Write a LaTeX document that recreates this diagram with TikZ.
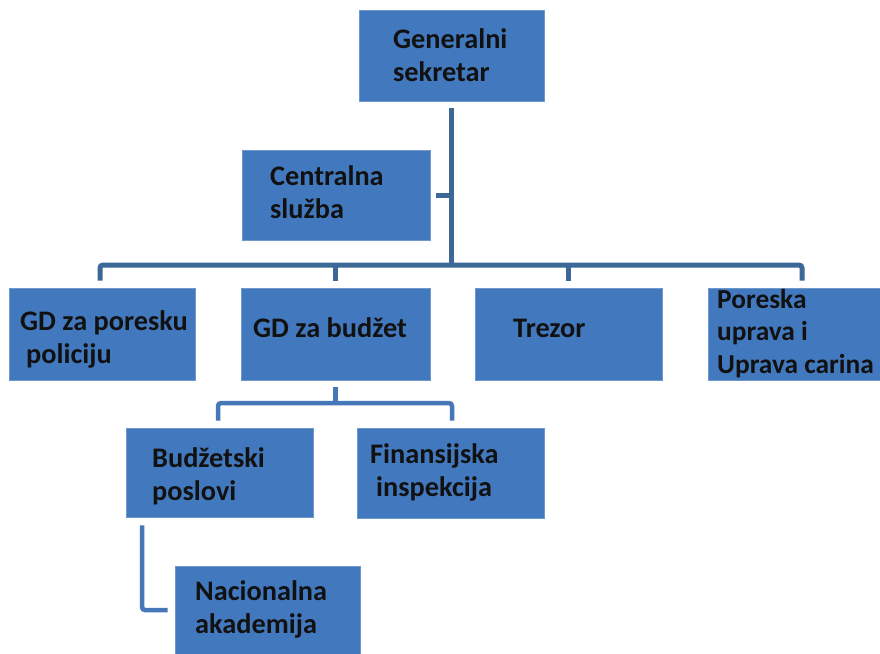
\documentclass[tikz,border=0pt]{standalone}
\usepackage{fontspec}
\setmainfont{Carlito}
\definecolor{boxblue}{HTML}{4279BE}
\definecolor{boxedge}{HTML}{6E98CC}
\definecolor{linedark}{HTML}{3C6898}
\definecolor{linemid}{HTML}{4677B8}
\definecolor{txt}{HTML}{111111}
\begin{document}
\begin{tikzpicture}[x=1pt,y=-1pt,
  orgbox/.style={draw=boxedge, line width=0.8pt, fill=boxblue, inner sep=0pt},
  lbl/.style={anchor=north west, inner sep=0pt, align=left,
    font=\fontsize{28.3}{33.5}\selectfont\bfseries, text=txt},
  conn/.style={draw=linedark, line width=5pt, rounded corners=3pt},
  conntwo/.style={draw=linemid, line width=4.5pt, rounded corners=3pt},
]
\useasboundingbox[fill=white] (0,0) rectangle (880,653);

% boxes
\node[orgbox, minimum width=185pt, minimum height=91pt] (gs) at (451.5,55.5) {};
\node[orgbox, minimum width=188pt, minimum height=90pt] (cs) at (336,195) {};
\node[orgbox, minimum width=186pt, minimum height=92pt] (pp) at (102,334) {};
\node[orgbox, minimum width=189pt, minimum height=92pt] (gb) at (335.5,334) {};
\node[orgbox, minimum width=187pt, minimum height=92pt] (tr) at (568.5,334) {};
\node[orgbox, minimum width=176pt, minimum height=92pt] (pu) at (796,334) {};
\node[orgbox, minimum width=187pt, minimum height=89pt] (bp) at (219.5,472.5) {};
\node[orgbox, minimum width=187pt, minimum height=90pt] (fi) at (450.5,473) {};
\node[orgbox, minimum width=185pt, minimum height=92pt] (na) at (267.5,612) {};

% labels
\node[lbl] (gs-t) at (393,26) {\rule{0pt}{22pt}Generalni\\sekretar};
\node[lbl] (cs-t) at (270,163) {\rule{0pt}{22pt}Centralna\\služba};
\node[lbl] (pp-t) at (20,308) {\rule{0pt}{22pt}GD za poresku\\\kern6pt policiju};
\node[lbl] (gb-t) at (253,315) {\rule{0pt}{22pt}GD za budžet};
\node[lbl] (tr-t) at (513,315) {\rule{0pt}{22pt}Trezor};
\node[lbl, font=\fontsize{27.4}{32.5}\selectfont\bfseries] (pu-t) at (717,286) {\rule{0pt}{22pt}Poreska\\uprava i\\Uprava carina};
\node[lbl] (bp-t) at (152,445) {\rule{0pt}{22pt}Budžetski\\poslovi};
\node[lbl] (fi-t) at (370,441) {\rule{0pt}{22pt}Finansijska\\\kern6pt inspekcija};
\node[lbl] (na-t) at (195,578) {\rule{0pt}{22pt}Nacionalna\\akademija};

% junction coordinates
\coordinate (busL) at (100,265);
\coordinate (busM) at (452,265);
\coordinate (busR) at (802,265);
\coordinate (sbL) at (218,403);
\coordinate (sbR) at (452,403);
\coordinate (nc) at (142,610);

% main connectors
\draw[conn] ([yshift=-7pt]gs.south) -- (gs.south |- busM);
\draw[conn] ([xshift=6pt]cs.east) -- (cs.east -| busM);
\draw[conn] ([yshift=7pt]pp.north -| busL) -- (busL) -- (busR) -- ([yshift=7pt]pu.north -| busR);
\draw[conn] (gb.north |- busL) -- ([yshift=7pt]gb.north);
\draw[conn] (tr.north |- busL) -- ([yshift=7pt]tr.north);

% budget subtree
\draw[conntwo] ([yshift=-7pt]gb.south) -- (gb.south |- sbL);
\draw[conntwo] ([yshift=7pt]bp.north -| sbL) -- (sbL) -- (sbR) -- ([yshift=7pt]fi.north -| sbR);
\draw[conntwo] ([yshift=-8pt]bp.south -| nc) -- (nc) -- ([xshift=-7pt]na.west |- nc);
\end{tikzpicture}
\end{document}
